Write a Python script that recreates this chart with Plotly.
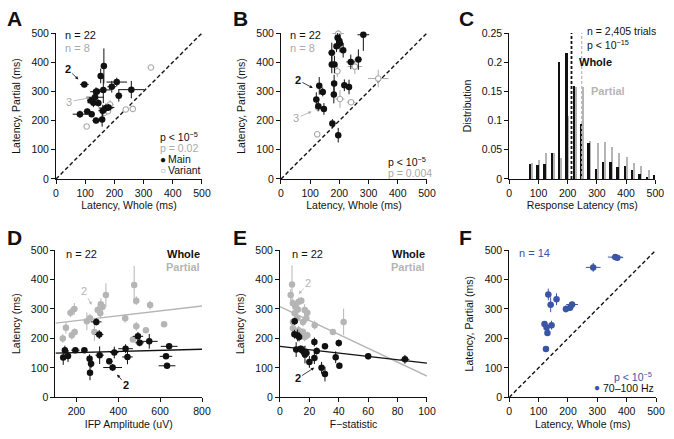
import plotly.graph_objects as go
from plotly.subplots import make_subplots

FONT = "Liberation Sans, Arial, Helvetica, sans-serif"
BLACK = "#111111"
GREY = "#a9a9a9"
LGREY = "#b5b5b5"
BLUE = "#3a55a5"

# --- A: latency whole vs partial (main / variant) ---
a_main_x = [97, 164, 153, 137, 162, 208, 191, 258, 215, 134, 128, 107, 82, 122, 160, 137, 158, 171, 145, 118, 180, 140]
a_main_y = [324, 387, 353, 299, 305, 332, 316, 306, 285, 280, 261, 231, 222, 222, 234, 200, 204, 243, 260, 270, 245, 300]
a_main_ex = [15, 8, 10, 20, 25, 35, 15, 45, 12, 30, 20, 12, 25, 10, 15, 12, 10, 25, 10, 10, 20, 10]
a_main_ey = [10, 60, 25, 15, 45, 15, 20, 30, 20, 10, 15, 10, 12, 10, 20, 10, 25, 15, 12, 10, 12, 10]
a_var_x = [325, 132, 185, 239, 263, 166, 105, 178]
a_var_y = [382, 280, 255, 238, 240, 227, 180, 232]
a_var_ex = [5, 8, 12, 8, 8, 10, 5, 8]
a_var_ey = [5, 10, 15, 5, 8, 8, 8, 6]

# --- B ---
b_main_x = [282, 194, 200, 202, 213, 174, 174, 183, 239, 265, 131, 143, 182, 181, 217, 233, 121, 128, 147, 176, 196, 190]
b_main_y = [494, 484, 473, 464, 441, 432, 392, 392, 401, 409, 319, 298, 327, 289, 321, 315, 272, 249, 240, 190, 150, 455]
b_main_ex = [20, 8, 8, 10, 10, 12, 10, 10, 15, 12, 10, 10, 8, 8, 10, 10, 10, 10, 10, 10, 8, 8]
b_main_ey = [55, 30, 25, 30, 25, 35, 30, 30, 25, 35, 30, 15, 30, 30, 20, 25, 25, 15, 20, 15, 25, 20]
b_var_x = [196, 193, 333, 253, 202, 240, 127, 124]
b_var_y = [498, 369, 344, 385, 274, 263, 244, 153]
b_var_ex = [20, 10, 35, 25, 15, 15, 10, 5]
b_var_ey = [10, 20, 30, 25, 30, 10, 15, 8]

# --- C: latency distribution ---
c_bins = [75, 100, 125, 150, 175, 200, 225, 250, 275, 300, 325, 350, 375, 400, 425, 450, 475, 500]
c_whole = [0.025, 0.024, 0.026, 0.045, 0.201, 0.216, 0.159, 0.095, 0.062, 0.017, 0.029, 0.029, 0.020, 0.023, 0.015, 0.008, 0.002, 0.006]
c_partial = [0.028, 0.033, 0.044, 0.044, 0.036, 0.107, 0.157, 0.157, 0.065, 0.061, 0.064, 0.055, 0.045, 0.038, 0.027, 0.022, 0.015, 0.0]
c_median_whole = 213
c_median_partial = 248

# --- D: latency vs IFP amplitude ---
d_whole_x = [137, 145, 195, 238, 263, 270, 265, 295, 309, 311, 357, 373, 381, 435, 444, 494, 502, 548, 643, 628, 633, 160]
d_whole_y = [135, 160, 160, 160, 131, 114, 83, 256, 213, 143, 122, 101, 152, 165, 137, 207, 185, 190, 173, 139, 107, 140]
d_whole_ex = [10, 12, 20, 15, 10, 15, 10, 25, 20, 20, 15, 45, 20, 35, 25, 25, 20, 40, 40, 30, 40, 10]
d_whole_ey = [25, 15, 8, 8, 15, 15, 25, 12, 15, 30, 10, 12, 20, 15, 25, 15, 12, 25, 10, 8, 8, 20]
d_part_x = [135, 150, 172, 190, 178, 192, 250, 265, 286, 341, 317, 325, 302, 314, 476, 486, 552, 433, 486, 532, 470, 619]
d_part_y = [200, 236, 287, 300, 211, 222, 258, 268, 222, 347, 316, 307, 296, 285, 381, 328, 313, 268, 241, 228, 196, 248]
d_part_ex = [10, 12, 15, 15, 10, 10, 15, 12, 10, 10, 15, 12, 15, 12, 10, 10, 15, 15, 15, 10, 12, 15]
d_part_ey = [15, 20, 15, 20, 15, 12, 30, 15, 30, 40, 20, 15, 15, 15, 65, 15, 15, 15, 15, 10, 8, 8]
d_fit_whole = (148.1, 0.0186)    # intercept, slope
d_fit_part = (243.7, 0.0829)

# --- E: latency vs F-statistic ---
e_whole_x = [9.8, 12, 11, 15, 16.3, 17, 14, 20, 23.4, 25, 23.4, 28.3, 30.6, 30.6, 37.9, 40, 40.4, 60, 85, 10, 18, 13]
e_whole_y = [214, 210, 162, 160, 154, 145, 165, 120, 188, 157, 133, 100, 79, 173, 136, 184, 107, 139, 129, 258, 150, 205]
e_whole_ex = [1, 1.5, 2, 2, 2, 1.5, 1.5, 2, 1.5, 2, 2, 2, 1.5, 2, 1.5, 2, 1.5, 1.5, 3, 1, 2, 1.5]
e_whole_ey = [15, 20, 25, 15, 20, 30, 10, 20, 15, 12, 20, 20, 25, 10, 20, 12, 10, 10, 15, 12, 15, 15]
e_part_x = [8.2, 7.3, 8.8, 10.4, 12.7, 14.5, 12.2, 16.8, 18.6, 17.9, 15.6, 8.8, 8.8, 12.7, 15.6, 18.6, 16.8, 23.6, 36, 43.3, 10, 11.8]
e_part_y = [383, 347, 319, 307, 324, 328, 298, 296, 287, 268, 256, 256, 234, 228, 222, 211, 205, 245, 222, 256, 285, 268]
e_part_ex = [1, 1, 1, 1, 1.5, 1.5, 1, 1.5, 1.5, 1, 1, 1, 1, 1, 1, 1, 1, 1.5, 1, 1, 1, 1]
e_part_ey = [65, 20, 15, 15, 15, 12, 15, 20, 15, 15, 15, 15, 12, 15, 12, 12, 15, 15, 10, 45, 15, 15]
e_fit_whole = (173, -0.57)
e_fit_part = (308, -2.36)

# --- F: 70-100 Hz ---
f_x = [361, 368, 286, 133, 161, 141, 214, 193, 207, 120, 144, 130, 125, 127]
f_y = [476, 474, 441, 349, 333, 314, 315, 300, 304, 249, 245, 218, 164, 237]
f_ex = [25, 20, 25, 10, 8, 10, 20, 10, 12, 8, 10, 5, 5, 8]
f_ey = [8, 6, 15, 20, 20, 25, 10, 12, 10, 10, 15, 10, 5, 20]

fig = make_subplots(rows=2, cols=3)


def pts(x, y, ex, ey, row, col, color, filled=True, size=6.5):
    fig.add_trace(go.Scatter(
        x=x, y=y, mode="markers", cliponaxis=False, showlegend=False,
        marker=dict(size=size if filled else 5.5, color=color if filled else "white",
                    line=dict(width=0 if filled else 1.1, color=color)),
        error_x=dict(type="data", array=ex, color=color, thickness=1, width=0),
        error_y=dict(type="data", array=ey, color=color, thickness=1, width=0),
    ), row=row, col=col)


def diag(row, col):
    fig.add_trace(go.Scatter(x=[0, 500], y=[0, 500], mode="lines", showlegend=False,
                             line=dict(color=BLACK, width=1.4, dash="4px,2.5px")), row=row, col=col)


def fitline(fit, x0, x1, row, col, color):
    b, m = fit
    fig.add_trace(go.Scatter(x=[x0, x1], y=[b + m * x0, b + m * x1], mode="lines", showlegend=False,
                             line=dict(color=color, width=1.4)), row=row, col=col)


# A
diag(1, 1)
pts(a_var_x, a_var_y, a_var_ex, a_var_ey, 1, 1, GREY, filled=False)
pts(a_main_x, a_main_y, a_main_ex, a_main_ey, 1, 1, BLACK)
# B
diag(1, 2)
pts(b_var_x, b_var_y, b_var_ex, b_var_ey, 1, 2, GREY, filled=False)
pts(b_main_x, b_main_y, b_main_ex, b_main_ey, 1, 2, BLACK)
# C
fig.add_trace(go.Bar(x=c_bins, y=c_partial, width=5, offset=1.5, marker=dict(color=LGREY, line_width=0),
                     showlegend=False), row=1, col=3)
fig.add_trace(go.Bar(x=c_bins, y=c_whole, width=6.5, offset=-5.5, marker=dict(color=BLACK, line_width=0),
                     showlegend=False), row=1, col=3)
fig.add_trace(go.Scatter(x=[c_median_partial] * 2, y=[0, 0.25], mode="lines", showlegend=False,
                         line=dict(color=LGREY, width=1.2, dash="3px,2px")), row=1, col=3)
fig.add_trace(go.Scatter(x=[c_median_whole] * 2, y=[0, 0.25], mode="lines", showlegend=False,
                         line=dict(color=BLACK, width=1.8, dash="3px,2px")), row=1, col=3)
# D
fitline(d_fit_part, 100, 800, 2, 1, LGREY)
fitline(d_fit_whole, 100, 800, 2, 1, BLACK)
pts(d_part_x, d_part_y, d_part_ex, d_part_ey, 2, 1, LGREY)
pts(d_whole_x, d_whole_y, d_whole_ex, d_whole_ey, 2, 1, BLACK)
# E
fitline(e_fit_part, 0, 100, 2, 2, LGREY)
fitline(e_fit_whole, 0, 100, 2, 2, BLACK)
pts(e_part_x, e_part_y, e_part_ex, e_part_ey, 2, 2, LGREY)
pts(e_whole_x, e_whole_y, e_whole_ex, e_whole_ey, 2, 2, BLACK)
# F
diag(2, 3)
pts(f_x, f_y, f_ex, f_ey, 2, 3, BLUE)

axis = dict(showline=True, linecolor=BLACK, linewidth=1, ticks="outside", ticklen=4, tickwidth=1,
            tickcolor=BLACK, showgrid=False, zeroline=False, automargin=False,
            tickfont=dict(size=10.5, color=BLACK), title_font=dict(size=10.5, color=BLACK))
top = [0.5923, 0.9248]
bot = [0.095, 0.4305]
lat = dict(range=[0, 500], tickvals=[0, 100, 200, 300, 400, 500])
fig.update_layout(
    template="none",
    xaxis=dict(axis, domain=[0.0831, 0.2997], title=dict(text="Latency, Whole (ms)", standoff=4), **lat),
    yaxis=dict(axis, domain=top, title=dict(text="Latency, Partial (ms)", standoff=8), **lat),
    xaxis2=dict(axis, domain=[0.4169, 0.6335], title=dict(text="Latency, Whole (ms)", standoff=4), **lat),
    yaxis2=dict(axis, domain=top, title=dict(text="Latency, Partial (ms)", standoff=8), **lat),
    xaxis3=dict(axis, domain=[0.7556, 0.9723], range=[0, 500], tickvals=[0, 100, 200, 300, 400, 500],
                title=dict(text="Response Latency (ms)", standoff=4)),
    yaxis3=dict(axis, domain=top, range=[0, 0.25], tickvals=[0, 0.05, 0.1, 0.15, 0.2, 0.25],
                ticktext=["0", "0.05", "0.1", "0.15", "0.2", "0.25"],
                title=dict(text="Distribution", standoff=8)),
    xaxis4=dict(axis, domain=[0.0823, 0.2997], range=[100, 800], tickvals=[200, 400, 600, 800],
                title=dict(text="IFP Amplitude (uV)", standoff=4)),
    yaxis4=dict(axis, domain=bot, title=dict(text="Latency (ms)", standoff=8), **lat),
    xaxis5=dict(axis, domain=[0.4154, 0.6335], range=[0, 100], tickvals=[0, 20, 40, 60, 80, 100],
                title=dict(text="F\u2212statistic", standoff=4)),
    yaxis5=dict(axis, domain=bot, title=dict(text="Latency (ms)", standoff=8), **lat),
    xaxis6=dict(axis, domain=[0.7556, 0.9733], title=dict(text="Latency, Whole (ms)", standoff=4), **lat),
    yaxis6=dict(axis, domain=bot, title=dict(text="Latency, Partial (ms)", standoff=8), **lat),
    width=674, height=439, margin=dict(l=0, r=0, t=0, b=0, autoexpand=False),
    paper_bgcolor="white", plot_bgcolor="white", bargap=0,
    font=dict(family=FONT, size=10.5, color=BLACK), showlegend=False,
)

ann = []


def txt(t, x, y, ax, color=BLACK, xanchor="left", bold=False, size=11, yshift=0):
    ann.append(dict(text=f"<b>{t}</b>" if bold else t, x=x, y=y, xref="x" + ax, yref="y" + ax,
                    xanchor=xanchor, yanchor="middle", showarrow=False, yshift=yshift,
                    font=dict(color=color, size=size)))


def arrow(t, x, y, x0, y0, ax, color=BLACK, bold=False):
    # label sits at (x0, y0), arrow head at (x, y)
    ann.append(dict(text=f"<b>{t}</b>" if bold else t, x=x, y=y, ax=x0, ay=y0,
                    xref="x" + ax, yref="y" + ax, axref="x" + ax, ayref="y" + ax,
                    showarrow=True, arrowhead=2, arrowsize=0.8, arrowwidth=0.8, arrowcolor=color,
                    standoff=3, font=dict(color=color, size=11)))


# panel letters
for letter, px, py in [("A", 0.008, 0.958), ("B", 0.342, 0.958), ("C", 0.678, 0.958),
                       ("D", 0.008, 0.46), ("E", 0.342, 0.46), ("F", 0.678, 0.46)]:
    ann.append(dict(text=f"<b>{letter}</b>", x=px, y=py, xref="paper", yref="paper", showarrow=False,
                    xanchor="left", yanchor="middle", font=dict(size=21, color=BLACK)))

sup5 = "p < 10<sup>\u22125</sup>"
# A
txt("n = 22", 25, 493, "")
txt("n = 8", 25, 448, "", GREY)
arrow("2", 84, 334, 40, 376, "", bold=True)
arrow("3", 126, 280, 45, 265, "", GREY)
txt(sup5, 350, 147, "", size=10.5)
txt("p = 0.02", 350, 107, "", GREY, size=10.5)
txt("\u25cf", 350, 67, "", size=10)
txt("Main", 378, 67, "", size=10.5)
txt("\u25cb", 350, 30, "", GREY, size=10)
txt("Variant", 378, 30, "", size=10.5)
# B
txt("n = 22", 25, 493, "2")
txt("n = 8", 25, 448, "2", GREY)
arrow("2", 118, 307, 58, 339, "2", bold=True)
arrow("3", 114, 235, 52, 208, "2", GREY)
txt(sup5, 360, 52, "2", size=10.5, yshift=2)
txt("p = 0.004", 360, 19, "2", GREY, size=10.5)
# C
txt("n = 2,405 trials", 259, 0.2495, "3", size=10.5, yshift=2)
txt("p < 10<sup>\u221215</sup>", 259, 0.232, "3", size=10.5, yshift=-1)
txt("Whole", 233, 0.2, "3", bold=True)
txt("Partial", 274, 0.151, "3", LGREY, bold=True)
# D
txt("n = 22", 140, 485, "4")
txt("Whole", 800, 485, "4", xanchor="right", bold=True)
txt("Partial", 800, 443, "4", LGREY, xanchor="right", bold=True)
arrow("2", 280, 305, 235, 362, "4", LGREY)
arrow("2", 385, 85, 438, 41, "4", bold=True)
# E
txt("n = 22", 7, 485, "5")
txt("Whole", 100, 485, "5", xanchor="right", bold=True)
txt("Partial", 100, 443, "5", LGREY, xanchor="right", bold=True)
arrow("2", 11.5, 343, 19, 387, "5", LGREY)
arrow("2", 25, 106, 12, 64, "5", bold=True)
# F
txt("n = 14", 25, 489, "6", BLUE)
txt(sup5, 493, 72, "6", BLUE, xanchor="right", size=10.5)
txt("\u25cf", 282, 32, "6", BLUE, size=10)
txt("70\u2013100 Hz", 313, 32, "6", size=10.5)

fig.update_layout(annotations=ann)
# the page body has a default 8px margin; drop it so the figure sits at the window corner
fig.write_html("out.html", config={"displayModeBar": False},
               post_script="document.body.style.margin = '0';")
